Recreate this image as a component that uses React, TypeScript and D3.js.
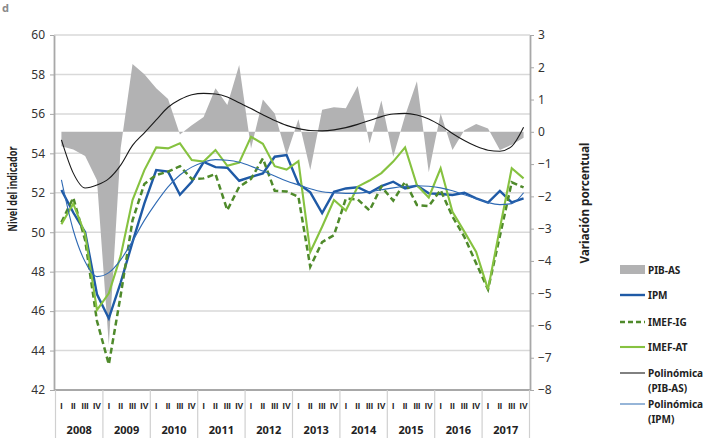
import { useEffect, useRef } from 'react';
import * as d3 from 'd3';

// quarterly series 2008-I .. 2017-IV
const years = ['2008', '2009', '2010', '2011', '2012', '2013', '2014', '2015', '2016', '2017'];
const quarterLabels = ['I', 'II', 'III', 'IV'];

// PIB-AS (variación porcentual, eje derecho)
const pibAS = [
  -0.45, -0.55, -0.75, -1.5, -6.6, -0.5, 2.1, 1.78, 1.35, 1.02,
  -0.08, 0.2, 0.46, 1.35, 0.83, 2.07, -0.52, 1.0, 0.57, -0.72,
  0.39, -1.18, 0.68, 0.76, 0.73, 1.42, -0.36, 0.97, -0.77, 0.5,
  1.57, -1.25, 0.57, -0.56, 0.05, 0.24, 0.1, -0.56, -0.4, -0.18
];

// IPM (nivel, eje izquierdo)
const ipm = [
  52.14, 51.0, 50.0, 46.85, 45.63, 47.45, 49.5, 51.46, 53.15, 53.07,
  51.9, 52.56, 53.56, 53.3, 53.27, 52.61, 52.81, 52.98, 53.83, 53.91,
  52.46, 52.02, 50.97, 52.05, 52.22, 52.28, 52.0, 52.34, 52.56, 52.22,
  52.37, 51.97, 51.94, 51.89, 52.0, 51.72, 51.5, 52.09, 51.51, 51.72
];

const imefIG = [
  50.5, 51.75, 49.6, 45.5, 43.3, 46.8, 50.6, 52.45, 52.9, 53.07,
  53.35, 52.7, 52.73, 52.95, 51.12, 52.3, 52.7, 53.74, 52.1, 52.07,
  51.8, 48.25, 49.5, 49.85, 51.7, 51.67, 51.1, 52.31, 51.6, 52.56,
  51.38, 51.33, 52.14, 50.79, 49.77, 48.42, 47.1, 49.8, 52.53, 52.27
];

const imefAT = [
  50.4, 51.45, 49.9, 46.05, 46.9, 48.8, 51.63, 53.15, 54.3, 54.25,
  54.51, 53.66, 53.58, 54.17, 53.37, 53.53, 54.84, 54.48, 53.35, 53.18,
  53.6, 49.0, 50.28, 51.63, 51.1, 52.31, 52.62, 53.0, 53.58, 54.3,
  52.38, 51.76, 53.24, 51.04, 50.03, 49.0, 47.1, 50.2, 53.24, 52.73
];

// tendencias polinómicas
const polyPIB = [
  -0.25, -1.28, -1.74, -1.65, -1.45, -1.03, -0.42, -0.03, 0.37, 0.76,
  1.0, 1.15, 1.19, 1.17, 1.08, 0.9, 0.72, 0.53, 0.35, 0.2,
  0.1, 0.04, 0.03, 0.06, 0.13, 0.23, 0.35, 0.47, 0.55, 0.57,
  0.52, 0.4, 0.2, -0.05, -0.27, -0.45, -0.57, -0.6, -0.45, 0.14
];

const polyIPM = [
  52.65, 50.1, 48.5, 47.75, 47.95, 48.6, 49.55, 50.6, 51.5, 52.3,
  52.9, 53.3, 53.55, 53.68, 53.65, 53.55, 53.35, 53.1, 52.85, 52.6,
  52.4, 52.2, 52.05, 52.0, 51.97, 51.98, 52.05, 52.15, 52.25, 52.32,
  52.36, 52.33, 52.25, 52.1, 51.9, 51.7, 51.5, 51.4, 51.45, 52.0
];

const W = 705;
const H = 438;
const FONT = "'Noto Sans', sans-serif";

export default function App() {
  const leftRef = useRef<SVGGElement>(null);
  const rightRef = useRef<SVGGElement>(null);

  const plotLeft = 54;
  const plotRight = 530;
  const plotTop = 35;
  const plotBottom = 390;

  const idx = d3.range(pibAS.length);
  const x = d3.scaleBand<number>().domain(idx).range([55.5, 529.5]).padding(0);
  const cx = (i: number) => (x(i) as number) + x.bandwidth() / 2;
  const yL = d3.scaleLinear().domain([42, 60]).range([plotBottom, plotTop]);
  const yR = d3.scaleLinear().domain([-8, 3]).range([plotBottom, plotTop]);

  const area = d3.area<number>()
    .x((_, i) => cx(i))
    .y0(yR(0))
    .y1(d => yR(d));

  const lineL = d3.line<number>().x((_, i) => cx(i)).y(d => yL(d));
  const curveL = d3.line<number>().x((_, i) => cx(i)).y(d => yL(d)).curve(d3.curveMonotoneX);
  const curveR = d3.line<number>().x((_, i) => cx(i)).y(d => yR(d)).curve(d3.curveMonotoneX);

  useEffect(() => {
    const styleAxis = (g: d3.Selection<SVGGElement, unknown, null, undefined>) => {
      g.attr('font-family', FONT).attr('font-size', 12);
      g.select('.domain').attr('stroke', '#a8a8a8').attr('stroke-width', 1.8);
      g.selectAll('.tick line').attr('stroke', '#a8a8a8');
      g.selectAll('.tick text').attr('fill', '#333');
    };
    if (leftRef.current) {
      const g = d3.select(leftRef.current);
      g.selectAll('*').remove();
      g.call(d3.axisLeft(yL).tickValues(d3.range(42, 61, 2)).tickSize(4).tickSizeOuter(0).tickPadding(5));
      styleAxis(g);
    }
    if (rightRef.current) {
      const g = d3.select(rightRef.current);
      g.selectAll('*').remove();
      g.call(d3.axisRight(yR).tickValues(d3.range(-8, 4, 1)).tickSize(4).tickSizeOuter(0).tickPadding(4)
        .tickFormat(d3.format('d')));
      styleAxis(g);
    }
  }, []);

  const gridVals = d3.range(44, 61, 2);
  const yearW = x.bandwidth() * 4;

  const legendItems = [
    { label: ['PIB-AS'], type: 'area', y: 270 },
    { label: ['IPM'], type: 'ipm', y: 295 },
    { label: ['IMEF-IG'], type: 'ig', y: 322 },
    { label: ['IMEF-AT'], type: 'at', y: 347 },
    { label: ['Polinómica', '(PIB-AS)'], type: 'polyPIB', y: 373 },
    { label: ['Polinómica', '(IPM)'], type: 'polyIPM', y: 404 }
  ];

  return (
    <div style={{ position: 'absolute', left: 0, top: 0 }}>
      <svg width={W} height={H} style={{ display: 'block', background: '#fff' }} fontFamily={FONT}>
        <text x={2} y={12} fontSize={11} fontWeight={700} fill="#8a8a8a">d</text>

        {/* gridlines */}
        {gridVals.map(v => (
          <line key={v} x1={plotLeft} x2={plotRight} y1={yL(v)} y2={yL(v)} stroke="#d9d9d9" strokeWidth={1.5} />
        ))}

        {/* PIB-AS area */}
        <path d={area(pibAS) || ''} fill="#b2b2b3" />

        {/* series */}
        <path d={lineL(ipm) || ''} fill="none" stroke="#1f5aa6" strokeWidth={2.4} strokeLinejoin="miter" />
        <path d={lineL(imefIG) || ''} fill="none" stroke="#4f8a2b" strokeWidth={2.5} strokeDasharray="6,3.5" />
        <path d={lineL(imefAT) || ''} fill="none" stroke="#86c240" strokeWidth={2.1} />
        <path d={curveR(polyPIB) || ''} fill="none" stroke="#1a1a1a" strokeWidth={1.1} />
        <path d={curveL(polyIPM) || ''} fill="none" stroke="#2f6ab4" strokeWidth={1.1} />

        {/* axes */}
        <g ref={leftRef} transform={`translate(${plotLeft},0)`} />
        <g ref={rightRef} transform={`translate(${plotRight},0)`} />
        <line x1={plotLeft} x2={plotRight} y1={plotBottom} y2={plotBottom} stroke="#a8a8a8" strokeWidth={1.8} />

        {/* category axis */}
        {d3.range(years.length + 1).map(k => {
          const xx = 55.5 + k * yearW;
          return <line key={'s' + k} x1={xx} x2={xx} y1={plotBottom} y2={H} stroke="#d0d0d0" strokeWidth={1.2} />;
        })}
        {idx.map(i => (
          <text key={'q' + i} x={cx(i)} y={409} textAnchor="middle" fontSize={8.5} fontWeight={700}
            fontFamily="'Liberation Sans', sans-serif" fill="#222">
            {quarterLabels[i % 4]}
          </text>
        ))}
        {years.map((yr, k) => (
          <text key={yr} x={55.5 + (k + 0.5) * yearW} y={434} textAnchor="middle" fontSize={11} fontWeight={700} fill="#222">
            {yr}
          </text>
        ))}

        {/* axis titles */}
        <text transform="translate(17,189) rotate(-90)" textAnchor="middle" fontSize={12.5} fontWeight={700} fill="#222"
          textLength={85} lengthAdjust="spacingAndGlyphs">Nivel del indicador</text>
        <text transform="translate(589,203) rotate(-90)" textAnchor="middle" fontSize={12.5} fontWeight={700} fill="#222"
          textLength={121} lengthAdjust="spacingAndGlyphs">Variación porcentual</text>

        {/* legend */}
        {legendItems.map(it => (
          <g key={it.type}>
            {it.type === 'area' && <rect x={620} y={it.y - 5} width={25} height={9} fill="#b2b2b3" />}
            {it.type === 'ipm' && <line x1={620} x2={645} y1={it.y} y2={it.y} stroke="#1f5aa6" strokeWidth={2.4} />}
            {it.type === 'ig' && <line x1={620} x2={645} y1={it.y} y2={it.y} stroke="#4f8a2b" strokeWidth={2.5} strokeDasharray="5,3" />}
            {it.type === 'at' && <line x1={620} x2={645} y1={it.y} y2={it.y} stroke="#86c240" strokeWidth={2.1} />}
            {it.type === 'polyPIB' && <line x1={620} x2={645} y1={it.y} y2={it.y} stroke="#1a1a1a" strokeWidth={1.1} />}
            {it.type === 'polyIPM' && <line x1={620} x2={645} y1={it.y} y2={it.y} stroke="#7ba2cf" strokeWidth={1.6} />}
            {it.label.map((l, j) => (
              <text key={j} x={648} y={it.y + 3.5 + j * 15} fontSize={10} fontWeight={700} fill="#222">{l}</text>
            ))}
          </g>
        ))}
      </svg>
    </div>
  );
}
